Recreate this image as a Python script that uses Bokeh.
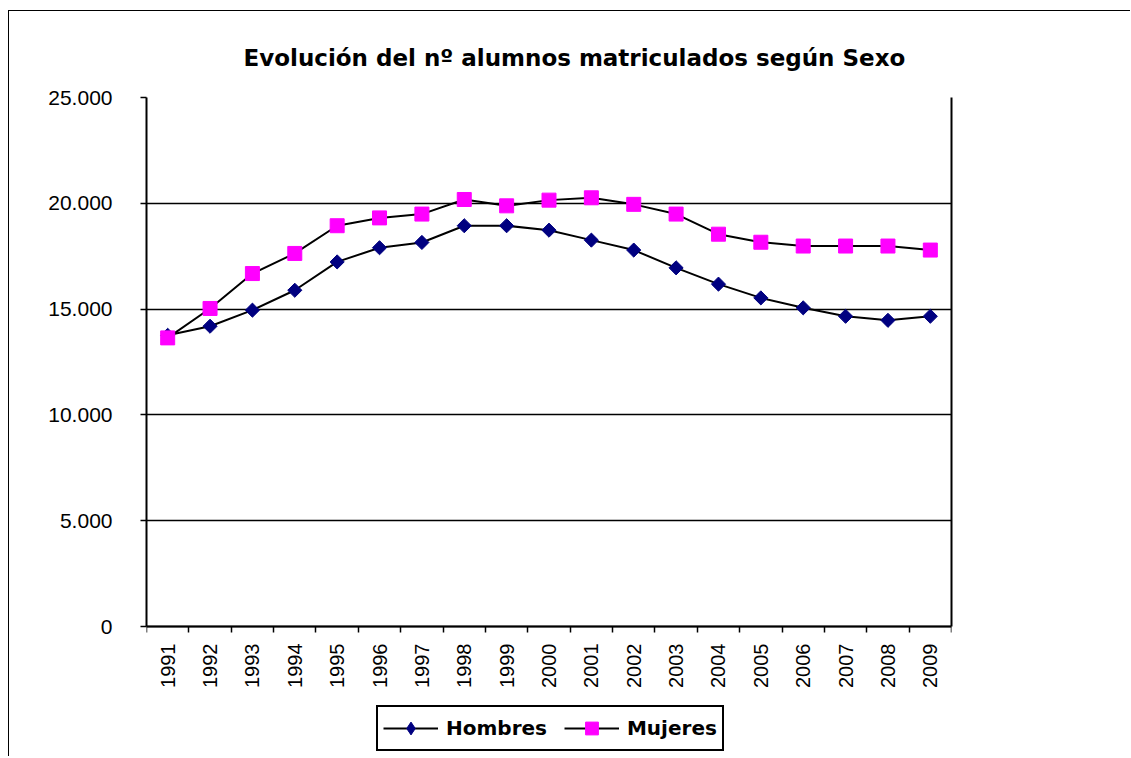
import math
from bokeh.plotting import figure
from bokeh.models import Range1d, FixedTicker, Legend, LegendItem, LinearAxis
from bokeh.embed import file_html
from bokeh.resources import INLINE

# ---- data ----
years = ["1991", "1992", "1993", "1994", "1995", "1996", "1997", "1998", "1999", "2000",
         "2001", "2002", "2003", "2004", "2005", "2006", "2007", "2008", "2009"]
hombres = [13760, 14190, 14950, 15890, 17230, 17900, 18150, 18940, 18940, 18730,
           18260, 17790, 16950, 16180, 15530, 15060, 14660, 14470, 14660]
mujeres = [13640, 15030, 16680, 17630, 18940, 19310, 19490, 20180, 19880, 20150,
           20260, 19950, 19490, 18540, 18160, 17980, 17980, 17980, 17790]
y_ticks = [0, 5000, 10000, 15000, 20000, 25000]
y_tick_labels = ["0", "5.000", "10.000", "15.000", "20.000", "25.000"]
title_text = "Evolución del nº alumnos  matriculados según Sexo"
series_names = ["Hombres", "Mujeres"]

FONT = "Liberation Sans"
BOLD_FONT = "DejaVu Sans"

n = len(years)
xc = [i + 0.5 for i in range(n)]

# layout (pixels): plot area 529px tall for 0..25000, extra 126px below for axis labels + legend
AREA_H = 529
EXTRA_H = 126
y_max = y_ticks[-1]
y_min = -y_max * EXTRA_H / AREA_H

p = figure(width=1122, height=746, output_backend="svg", toolbar_location=None,
           x_range=Range1d(0, n), y_range=Range1d(y_min, y_max),
           min_border_left=137, min_border_top=86, min_border_right=180, min_border_bottom=5)
p.frame_width = 805
p.frame_height = AREA_H + EXTRA_H
p.styles = {"box-shadow": "-1px -1px 0px 0px black",
            "margin-top": "11px", "margin-left": "9px"}
p.background_fill_color = "white"
p.border_fill_color = "white"
p.outline_line_color = None

# title
p.title.text = title_text
p.title.align = "left"
p.title.offset = 97
p.title.standoff = 54
p.title.text_font = BOLD_FONT
p.title.text_font_style = "bold"
p.title.text_font_size = "23px"
p.title.text_color = "black"

# grid
p.xgrid.grid_line_color = None
p.ygrid.ticker = FixedTicker(ticks=y_ticks)
p.ygrid.grid_line_color = "black"
p.ygrid.grid_line_width = 1.5

# y axis
ya = p.yaxis[0]
ya.ticker = FixedTicker(ticks=y_ticks)
ya.bounds = (0, y_max)
ya.major_label_overrides = {t: l for t, l in zip(y_ticks, y_tick_labels)}
ya.axis_line_width = 2
ya.major_tick_out = 6
ya.major_tick_in = 0
ya.major_tick_line_width = 1.5
ya.minor_tick_line_color = None
ya.major_label_standoff = 28
ya.major_label_text_font = FONT
ya.major_label_text_font_size = "21px"
ya.major_label_text_color = "black"

# right border of the plot area
ra = LinearAxis(ticker=FixedTicker(ticks=[]), bounds=(0, y_max), axis_line_width=2,
                major_tick_line_color=None, minor_tick_line_color=None,
                major_label_text_font_size="0px")
p.add_layout(ra, "right")

# x axis, drawn at y = 0
xa = p.xaxis[0]
xa.fixed_location = 0
xa.ticker = FixedTicker(ticks=xc, minor_ticks=list(range(n + 1)))
xa.major_label_overrides = {x: y for x, y in zip(xc, years)}
xa.major_label_orientation = math.pi / 2
xa.axis_line_width = 2
xa.major_tick_line_color = None
xa.major_tick_out = 6
xa.major_tick_in = 0
xa.minor_tick_out = 6
xa.minor_tick_in = 0
xa.minor_tick_line_color = "black"
xa.minor_tick_line_width = 1.5
xa.major_label_standoff = 11
xa.major_label_text_font = FONT
xa.major_label_text_font_size = "20px"
xa.major_label_text_color = "black"

# series
l1 = p.line(xc, hombres, line_color="black", line_width=2)
# diamond-shaped marker used for the legend key (sits under the rotated squares)
s1_key = p.scatter(xc, hombres, marker="diamond", size=10,
                   fill_color="#000080", line_color="#000080")
s1 = p.scatter(xc, hombres, marker="square", angle=math.pi / 4, size=10,
               fill_color="#000080", line_color="#000080")
l2 = p.line(xc, mujeres, line_color="black", line_width=2)
s2 = p.scatter(xc, mujeres, marker="square", size=14,
               fill_color="#FF00FF", line_color="#FF00FF")

legend = Legend(items=[LegendItem(label=series_names[0], renderers=[l1, s1_key]),
                       LegendItem(label=series_names[1], renderers=[l2, s2])],
                location=(230, 1), orientation="horizontal")
legend.border_line_color = "black"
legend.border_line_alpha = 1.0
legend.border_line_width = 2
legend.background_fill_color = "white"
legend.background_fill_alpha = 1.0
legend.label_text_font = BOLD_FONT
legend.label_text_font_style = "bold"
legend.label_text_font_size = "20px"
legend.label_text_color = "black"
legend.glyph_width = 55
legend.glyph_height = 32
legend.label_standoff = 8
legend.spacing = 17
legend.padding = 5
legend.margin = 0
p.add_layout(legend, "center")

open("out.html", "w").write(file_html(p, INLINE))
